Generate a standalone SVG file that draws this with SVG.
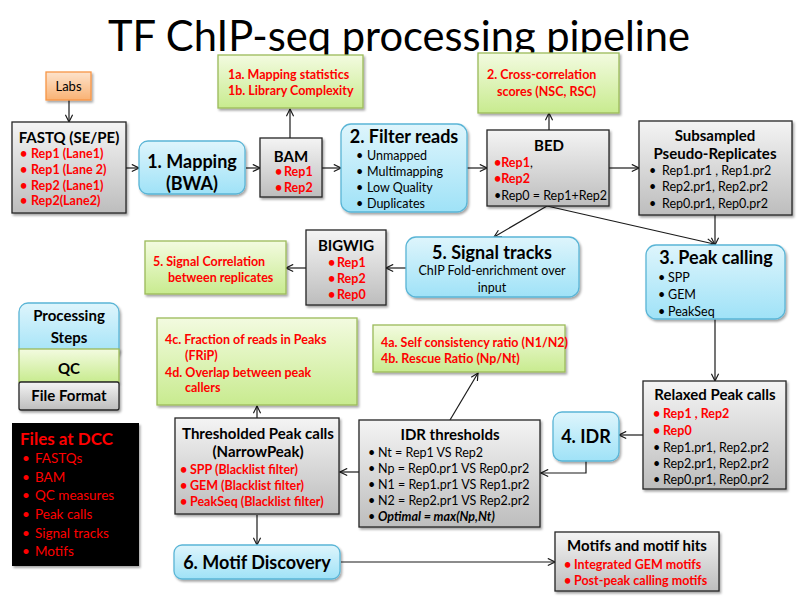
<svg xmlns="http://www.w3.org/2000/svg" width="798" height="598" viewBox="0 0 798 598">
<defs>
<linearGradient id="gGray" x1="0" y1="0" x2="0" y2="1"><stop offset="0" stop-color="#f4f4f4"/><stop offset="1" stop-color="#bdbdbd"/></linearGradient>
<linearGradient id="gBlue" x1="0" y1="0" x2="0" y2="1"><stop offset="0" stop-color="#def5fc"/><stop offset="1" stop-color="#9fe2f7"/></linearGradient>
<linearGradient id="gGreen" x1="0" y1="0" x2="0" y2="1"><stop offset="0" stop-color="#f3fbe0"/><stop offset="1" stop-color="#c8eb8f"/></linearGradient>
<linearGradient id="gOrange" x1="0" y1="0" x2="0" y2="1"><stop offset="0" stop-color="#fde3cc"/><stop offset="1" stop-color="#f9b274"/></linearGradient>
<filter id="sh" x="-10%" y="-10%" width="130%" height="130%"><feDropShadow dx="1.5" dy="2" stdDeviation="1.2" flood-color="#000" flood-opacity="0.35"/></filter>
<marker id="a" viewBox="0 0 10 10" refX="9" refY="5" markerWidth="9" markerHeight="9" markerUnits="userSpaceOnUse" orient="auto"><path d="M1,1 L9,5 L1,9" fill="none" stroke="#1a1a1a" stroke-width="1.3"/></marker>
<style>
text{font-family:Lato,"Liberation Sans",sans-serif;fill:#000}
.gray{fill:url(#gGray);stroke:#262626;stroke-width:1.3;filter:url(#sh)}
.blue{fill:url(#gBlue);stroke:#5ab5d6;stroke-width:1.3;filter:url(#sh)}
.green{fill:url(#gGreen);stroke:#9bbb59;stroke-width:1.3;filter:url(#sh)}
.orange{fill:url(#gOrange);stroke:#f79646;stroke-width:1.3;filter:url(#sh)}
.h{font-weight:bold;font-size:15px;text-anchor:middle}
.p{font-weight:bold;font-size:18px;text-anchor:middle}
.r{font-weight:bold;font-size:12.5px;fill:#ff0000}
.n{font-size:12.5px}
.c{text-anchor:middle}
.conn line,.conn path{stroke:#1a1a1a;stroke-width:1.2;fill:none;marker-end:url(#a)}
</style>
</defs>
<rect width="798" height="598" fill="#fff"/>
<text x="399" y="51" font-size="42" text-anchor="middle" textLength="582" lengthAdjust="spacingAndGlyphs">TF ChIP-seq processing pipeline</text>

<g class="conn">
<line x1="69" y1="100" x2="69" y2="122"/>
<line x1="126" y1="168" x2="139" y2="168"/>
<line x1="246" y1="168" x2="260" y2="168"/>
<line x1="290" y1="138" x2="290" y2="109"/>
<line x1="322" y1="168" x2="341" y2="168"/>
<line x1="467" y1="168" x2="487" y2="168"/>
<line x1="549" y1="130" x2="549" y2="113"/>
<line x1="609" y1="168" x2="639" y2="168"/>
<line x1="715" y1="215" x2="715" y2="245"/>
<line x1="547" y1="206" x2="494" y2="237"/>
<line x1="547" y1="206" x2="714" y2="244"/>
<line x1="406" y1="268" x2="386" y2="268"/>
<line x1="306" y1="268" x2="286" y2="268"/>
<line x1="715" y1="319" x2="715" y2="381"/>
<line x1="643" y1="435" x2="619" y2="435"/>
<path d="M586,461 L586,473 L541,473"/>
<line x1="450" y1="420" x2="478" y2="373"/>
<line x1="359" y1="472" x2="340" y2="472"/>
<line x1="257" y1="418" x2="257" y2="406"/>
<line x1="257" y1="515" x2="257" y2="545"/>
<line x1="341" y1="562" x2="555" y2="562"/>
</g>

<g id="labs"><rect class="orange" x="46" y="72" width="45" height="28"/><text x="68.5" y="91" font-size="13" class="c">Labs</text></g>

<g id="fastq"><rect class="gray" x="12" y="122" width="114" height="91"/>
<text x="69" y="143" class="h">FASTQ (SE/PE)</text>
<text x="20" y="158" class="r">•</text><text x="31" y="158" class="r">Rep1 (Lane1)</text>
<text x="20" y="174" class="r">•</text><text x="31" y="174" class="r">Rep1 (Lane 2)</text>
<text x="20" y="190" class="r">•</text><text x="31" y="190" class="r">Rep2 (Lane1)</text>
<text x="20" y="205" class="r">•</text><text x="31" y="205" class="r">Rep2(Lane2)</text></g>

<g id="mapping"><rect class="blue" x="139" y="141" width="106" height="53" rx="9"/>
<text x="192" y="168" class="p">1. Mapping</text><text x="192" y="190" class="p">(BWA)</text></g>

<g id="bam"><rect class="gray" x="260" y="138" width="62" height="59"/>
<text x="291" y="162" class="h">BAM</text>
<text x="275" y="176" class="r">•</text><text x="284" y="176" class="r">Rep1</text>
<text x="275" y="192" class="r">•</text><text x="284" y="192" class="r">Rep2</text></g>

<g id="qc1"><rect class="green" x="218" y="55" width="145" height="53"/>
<text x="228" y="79" class="r">1a. Mapping statistics</text>
<text x="228" y="95" class="r">1b. Library Complexity</text></g>

<g id="filter"><rect class="blue" x="341" y="124" width="126" height="88" rx="10"/>
<text x="404" y="143" class="p">2. Filter reads</text>
<text x="356" y="160" class="n">•</text><text x="367" y="160" class="n">Unmapped</text>
<text x="356" y="176" class="n">•</text><text x="367" y="176" class="n">Multimapping</text>
<text x="356" y="192" class="n">•</text><text x="367" y="192" class="n">Low Quality</text>
<text x="356" y="208" class="n">•</text><text x="367" y="208" class="n">Duplicates</text></g>

<g id="bed"><rect class="gray" x="487" y="130" width="122" height="76"/>
<text x="549" y="151" class="h">BED</text>
<text x="494" y="167" class="r" font-size="13.5">•Rep1<tspan fill="#000" font-weight="normal">,</tspan></text>
<text x="494" y="183" class="r" font-size="13.5">•Rep2</text>
<text x="494" y="200" class="n">•Rep0 = Rep1+Rep2</text></g>

<g id="qc2"><rect class="green" x="478" y="53" width="141" height="60"/>
<text x="487" y="79" class="r">2. Cross-correlation</text>
<text x="497" y="96" class="r">scores (NSC, RSC)</text></g>

<g id="subsampled"><rect class="gray" x="639" y="121" width="153" height="94"/>
<text x="715" y="141" class="h">Subsampled</text>
<text x="715" y="159" class="h">Pseudo-Replicates</text>
<text x="649" y="175" class="n">•</text><text x="662" y="175" class="n">Rep1.pr1 , Rep1.pr2</text>
<text x="649" y="191" class="n">•</text><text x="662" y="191" class="n">Rep2.pr1, Rep2.pr2</text>
<text x="649" y="208" class="n">•</text><text x="662" y="208" class="n">Rep0.pr1, Rep0.pr2</text></g>

<g id="signal"><rect class="blue" x="406" y="237" width="173" height="60" rx="10"/>
<text x="492" y="259" class="p">5. Signal tracks</text>
<text x="492" y="275" class="n c">ChIP Fold-enrichment over</text>
<text x="492" y="292" class="n c">input</text></g>

<g id="bigwig"><rect class="gray" x="306" y="230" width="80" height="75"/>
<text x="346" y="251" class="h">BIGWIG</text>
<text x="328" y="267" class="r">•</text><text x="337" y="267" class="r">Rep1</text>
<text x="328" y="283" class="r">•</text><text x="337" y="283" class="r">Rep2</text>
<text x="328" y="299" class="r">•</text><text x="337" y="299" class="r">Rep0</text></g>

<g id="qc5"><rect class="green" x="145" y="241" width="141" height="53"/>
<text x="153" y="266" class="r">5. Signal Correlation</text>
<text x="168" y="282" class="r">between replicates</text></g>

<g id="peakcalling"><rect class="blue" x="646" y="245" width="139" height="74" rx="10"/>
<text x="716" y="264" class="p">3. Peak calling</text>
<text x="658" y="282" class="n">•</text><text x="668" y="282" class="n">SPP</text>
<text x="658" y="299" class="n">•</text><text x="668" y="299" class="n">GEM</text>
<text x="658" y="316" class="n">•</text><text x="668" y="316" class="n">PeakSeq</text></g>

<g id="relaxed"><rect class="gray" x="643" y="381" width="143" height="108"/>
<text x="715" y="400" class="h">Relaxed Peak calls</text>
<text x="653" y="418" class="r">•</text><text x="663" y="418" class="r">Rep1 , Rep2</text>
<text x="653" y="435" class="r">•</text><text x="663" y="435" class="r">Rep0</text>
<text x="653" y="452" class="n">•</text><text x="663" y="452" class="n">Rep1.pr1, Rep2.pr2</text>
<text x="653" y="468" class="n">•</text><text x="663" y="468" class="n">Rep2.pr1, Rep2.pr2</text>
<text x="653" y="484" class="n">•</text><text x="663" y="484" class="n">Rep0.pr1, Rep0.pr2</text></g>

<g id="idr"><rect class="blue" x="553" y="412" width="66" height="49" rx="9"/>
<text x="586" y="443" class="p">4. IDR</text></g>

<g id="idrthresholds"><rect class="gray" x="359" y="420" width="181" height="107"/>
<text x="450" y="440" class="h">IDR thresholds</text>
<text x="368" y="457" class="n">•</text><text x="378" y="457" class="n">Nt = Rep1 VS Rep2</text>
<text x="368" y="473" class="n">•</text><text x="378" y="473" class="n">Np = Rep0.pr1 VS Rep0.pr2</text>
<text x="368" y="489" class="n">•</text><text x="378" y="489" class="n">N1 = Rep1.pr1 VS Rep1.pr2</text>
<text x="368" y="505" class="n">•</text><text x="378" y="505" class="n">N2 = Rep2.pr1 VS Rep2.pr2</text>
<text x="368" y="521" class="n">•</text><text x="378" y="521" class="n" font-weight="bold" font-style="italic">Optimal = max(Np,Nt)</text></g>

<g id="qc4ab"><rect class="green" x="373" y="325" width="192" height="47"/>
<text x="381" y="347" class="r">4a. Self consistency ratio (N1/N2)</text>
<text x="381" y="363" class="r">4b. Rescue Ratio (Np/Nt)</text></g>

<g id="thresholded"><rect class="gray" x="175" y="418" width="164" height="96"/>
<text x="258" y="439" class="h">Thresholded Peak calls</text>
<text x="258" y="457" class="h">(NarrowPeak)</text>
<text x="180" y="474" class="r">•</text><text x="190" y="474" class="r">SPP (Blacklist filter)</text>
<text x="180" y="490" class="r">•</text><text x="190" y="490" class="r">GEM (Blacklist filter)</text>
<text x="180" y="506" class="r">•</text><text x="190" y="506" class="r">PeakSeq (Blacklist filter)</text></g>

<g id="qc4cd"><rect class="green" x="157" y="318" width="200" height="87"/>
<text x="165" y="344" class="r">4c. Fraction of reads in Peaks</text>
<text x="185" y="360" class="r">(FRiP)</text>
<text x="165" y="377" class="r">4d. Overlap between peak</text>
<text x="185" y="392" class="r">callers</text></g>

<g id="motifdiscovery"><rect class="blue" x="174" y="545" width="166" height="34" rx="8"/>
<text x="257" y="569" class="p" font-size="17">6. Motif Discovery</text></g>

<g id="motifs"><rect class="gray" x="555" y="532" width="164" height="59"/>
<text x="637" y="551" class="h">Motifs and motif hits</text>
<text x="564" y="569" class="r">•</text><text x="574" y="569" class="r">Integrated GEM motifs</text>
<text x="564" y="585" class="r">•</text><text x="574" y="585" class="r">Post-peak calling motifs</text></g>

<g id="legend">
<rect class="blue" x="19" y="303" width="100" height="55" rx="9"/>
<rect class="green" x="19" y="349" width="100" height="33"/>
<rect class="gray" x="19" y="382" width="100" height="28" rx="2"/>
<text x="69" y="321" class="h">Processing</text>
<text x="69" y="343" class="h">Steps</text>
<text x="69" y="374" class="h" font-size="16">QC</text>
<text x="69" y="401" class="h" font-size="13.5">File Format</text>
</g>

<g id="dcc"><rect x="12" y="423" width="127" height="143" fill="#000" filter="url(#sh)"/>
<text x="20" y="445" font-weight="bold" font-size="17" fill="#ff0000" style="fill:#ff0000">Files at DCC</text>
<g font-size="13.5" style="fill:#ff0000">
<text x="22" y="463" style="fill:#ff0000">•</text><text x="35" y="463" style="fill:#ff0000">FASTQs</text>
<text x="22" y="482" style="fill:#ff0000">•</text><text x="35" y="482" style="fill:#ff0000">BAM</text>
<text x="22" y="500" style="fill:#ff0000">•</text><text x="35" y="500" style="fill:#ff0000">QC measures</text>
<text x="22" y="519" style="fill:#ff0000">•</text><text x="35" y="519" style="fill:#ff0000">Peak calls</text>
<text x="22" y="538" style="fill:#ff0000">•</text><text x="35" y="538" style="fill:#ff0000">Signal tracks</text>
<text x="22" y="556" style="fill:#ff0000">•</text><text x="35" y="556" style="fill:#ff0000">Motifs</text>
</g></g>
</svg>
